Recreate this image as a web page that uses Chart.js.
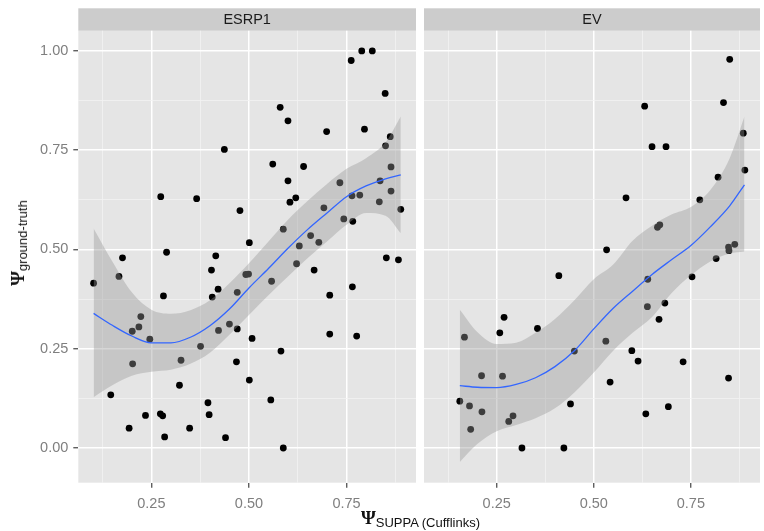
<!DOCTYPE html>
<html>
<head>
<meta charset="utf-8">
<script src="https://cdn.jsdelivr.net/npm/chart.js@4"></script>
<style>
  html, body { margin: 0; padding: 0; background: #ffffff; }
  #wrap { position: relative; width: 764px; height: 531px; overflow: hidden; background: #ffffff; }
  canvas { position: absolute; top: 0; }
  .psi { font-family: "Liberation Serif", "DejaVu Serif", serif; font-size: 19px; font-weight: bold; color: #111; }
  .sub { font-family: "Liberation Sans", Arial, sans-serif; font-size: 13px; color: #111; position: relative; top: 3px; }
  #xtitle { position: absolute; left: 0; width: 841px; top: 508px; line-height: 20px; text-align: center; white-space: nowrap; }
  #ytitle { position: absolute; left: 19px; top: 243px; width: 0; height: 0; }
  #ytitle > div { position: absolute; left: 0; top: 0; line-height: 20px; white-space: nowrap; transform: translate(-50%, -50%) rotate(-90deg); }
</style>
</head>
<body>
<div id="wrap">
  <canvas id="c1" width="420" height="531" style="left:0"></canvas>
  <canvas id="c2" width="344" height="531" style="left:420px"></canvas>
  <div id="ytitle"><div><span class="psi">Ψ</span><span class="sub">ground-truth</span></div></div>
  <div id="xtitle"><span class="psi">Ψ</span><span class="sub">SUPPA (Cufflinks)</span></div>
</div>
<script>
// ---- panel names ----
const panelNames = ["ESRP1", "EV"];

// ---- ESRP1 points ----
const esrp1X = [0.437,0.274,0.366,0.477,0.501,0.176,0.289,0.415,0.762,0.789,0.816,0.849,0.580,0.600,0.699,0.796,0.862,0.850,0.561,0.640,0.864,0.600,0.733,0.836,0.864,0.605,0.620,0.764,0.784,0.834,0.889,0.692,0.743,0.766,0.588,0.658,0.679,0.629,0.852,0.883,0.404,0.167,0.102,0.492,0.499,0.281,0.421,0.406,0.470,0.223,0.218,0.201,0.246,0.422,0.450,0.470,0.376,0.202,0.326,0.468,0.501,0.322,0.146,0.395,0.235,0.273,0.279,0.398,0.193,0.348,0.284,0.440,0.622,0.558,0.667,0.707,0.765,0.508,0.582,0.707,0.776,0.556,0.588];
const esrp1Y = [0.752,0.633,0.628,0.598,0.517,0.479,0.493,0.484,0.976,1.000,1.000,0.893,0.858,0.824,0.797,0.803,0.784,0.761,0.715,0.709,0.708,0.673,0.668,0.673,0.647,0.619,0.630,0.635,0.637,0.620,0.601,0.605,0.577,0.571,0.551,0.535,0.518,0.509,0.479,0.474,0.448,0.432,0.415,0.437,0.438,0.383,0.400,0.380,0.392,0.331,0.305,0.294,0.274,0.296,0.312,0.300,0.256,0.212,0.221,0.217,0.171,0.158,0.134,0.114,0.082,0.086,0.081,0.084,0.050,0.050,0.028,0.026,0.464,0.420,0.448,0.385,0.406,0.276,0.244,0.287,0.282,0.121,0.000];

// ---- EV points ----
const evX = [0.850,0.834,0.631,0.650,0.686,0.885,0.889,0.820,0.583,0.773,0.664,0.670,0.533,0.847,0.848,0.863,0.815,0.639,0.753,0.638,0.683,0.668,0.531,0.598,0.614,0.730,0.847,0.542,0.692,0.634,0.410,0.269,0.258,0.355,0.167,0.450,0.211,0.265,0.155,0.180,0.212,0.292,0.281,0.183,0.440,0.315,0.423];
const evY = [0.979,0.870,0.861,0.759,0.759,0.793,0.700,0.682,0.630,0.625,0.556,0.562,0.499,0.506,0.497,0.513,0.477,0.425,0.431,0.356,0.365,0.324,0.269,0.245,0.219,0.217,0.176,0.166,0.104,0.086,0.434,0.329,0.290,0.301,0.279,0.244,0.182,0.181,0.118,0.106,0.091,0.081,0.067,0.047,0.111,0.000,0.000];

// ---- smooth (loess) curves ----
const esrp1SmoothX = [0.102,0.15,0.20,0.25,0.30,0.35,0.40,0.45,0.50,0.55,0.60,0.65,0.70,0.75,0.80,0.85,0.889];
const esrp1Fit     = [0.339,0.309,0.282,0.265,0.265,0.279,0.308,0.350,0.403,0.452,0.503,0.550,0.592,0.633,0.660,0.678,0.688];
const esrp1Upper   = [0.553,0.470,0.392,0.348,0.338,0.347,0.372,0.415,0.465,0.520,0.575,0.622,0.665,0.703,0.730,0.770,0.835];
const esrp1Lower   = [0.128,0.158,0.182,0.192,0.197,0.212,0.240,0.285,0.335,0.385,0.432,0.478,0.520,0.562,0.592,0.585,0.541];

const evSmoothX = [0.155,0.20,0.25,0.30,0.35,0.40,0.45,0.50,0.55,0.60,0.65,0.70,0.75,0.80,0.85,0.888];
const evFit     = [0.157,0.153,0.152,0.160,0.177,0.205,0.245,0.300,0.352,0.395,0.437,0.474,0.510,0.557,0.610,0.663];
const evUpper   = [0.348,0.292,0.262,0.265,0.290,0.325,0.372,0.425,0.462,0.522,0.560,0.588,0.607,0.650,0.730,0.835];
const evLower   = [-0.035,0.010,0.042,0.058,0.075,0.100,0.140,0.190,0.245,0.290,0.330,0.390,0.435,0.470,0.490,0.495];

// ---- axes ----
const xRange = [0.0628, 0.928];
const yRange = [-0.0874, 1.051];
const xGrid = [0.125, 0.25, 0.375, 0.5, 0.625, 0.75, 0.875];
const yGrid = [0, 0.125, 0.25, 0.375, 0.5, 0.625, 0.75, 0.875, 1.0];
const xTickLabels = {0.25: "0.25", 0.5: "0.50", 0.75: "0.75"};
const yTickLabels = {0: "0.00", 0.25: "0.25", 0.5: "0.50", 0.75: "0.75", 1: "1.00"};

const pts = (xs, ys) => xs.map((x, i) => ({x: x, y: ys[i]}));
const isMajor = v => Math.abs(v / 0.25 - Math.round(v / 0.25)) < 1e-6;
const tickFont = {family: "'Liberation Sans', Arial, sans-serif", size: 14.5};

const panelPlugin = {
  id: 'panelBg',
  beforeDraw(chart) {
    const {ctx, chartArea: a} = chart;
    ctx.save();
    ctx.fillStyle = '#E5E5E5';
    ctx.fillRect(a.left, a.top, a.right - a.left, a.bottom - a.top);
    ctx.fillStyle = '#CCCCCC';
    ctx.fillRect(a.left, 8.3, a.right - a.left, a.top - 8.3);
    ctx.restore();
  }
};

function makeChart(canvasId, name, xs, ys, sx, fit, up, lo, first) {
  const chartAreaLeft = first ? 78.3 : 3.3;
  const smooth = { showLine: true, pointRadius: 0, cubicInterpolationMode: 'monotone' };
  return new Chart(document.getElementById(canvasId), {
    type: 'scatter',
    data: {
      datasets: [
        Object.assign({ // fitted line (on top)
          data: pts(sx, fit), borderColor: '#3366FF', borderWidth: 1.3, fill: false, order: 1
        }, smooth),
        Object.assign({ // confidence band upper, filled down to lower
          data: pts(sx, up), borderWidth: 0, borderColor: 'rgba(0,0,0,0)',
          fill: '+1', backgroundColor: 'rgba(153,153,153,0.4)', order: 2
        }, smooth),
        Object.assign({
          data: pts(sx, lo), borderWidth: 0, borderColor: 'rgba(0,0,0,0)', fill: false, order: 3
        }, smooth),
        { // observations
          data: pts(xs, ys), showLine: false, pointRadius: 3.4, pointBackgroundColor: '#000000',
          pointBorderWidth: 0, backgroundColor: '#000000', borderWidth: 0, order: 4
        }
      ]
    },
    options: {
      responsive: false,
      animation: false,
      events: [],
      layout: { padding: { left: first ? 0 : 3.3, right: first ? 2.7 : 1, top: 8.3, bottom: 0 } },
      plugins: {
        legend: { display: false },
        tooltip: { enabled: false },
        title: {
          display: true, text: name, fullSize: false, color: '#1A1A1A',
          font: { family: "'Liberation Sans', Arial, sans-serif", size: 14.5, weight: 'normal', lineHeight: 1.2 },
          padding: { top: 2.7, bottom: 2.3 }
        }
      },
      scales: {
        x: {
          type: 'linear', min: xRange[0], max: xRange[1],
          afterBuildTicks: s => { s.ticks = xGrid.map(v => ({value: v})); },
          afterFit: s => { s.height = 48.3; },
          border: { display: false },
          grid: {
            color: c => isMajor(c.tick.value) ? '#FFFFFF' : '#F2F2F2',
            lineWidth: c => isMajor(c.tick.value) ? 1.5 : 0.8,
            tickColor: c => isMajor(c.tick.value) ? '#444444' : 'rgba(0,0,0,0)',
            tickWidth: 1.2, tickLength: 5, drawTicks: true
          },
          ticks: {
            autoSkip: false, maxRotation: 0, padding: 8, color: '#7F7F7F', font: tickFont,
            callback: v => xTickLabels[Math.round(v * 1000) / 1000] || ''
          }
        },
        y: {
          type: 'linear', min: yRange[0], max: yRange[1],
          afterBuildTicks: s => { s.ticks = yGrid.map(v => ({value: v})); },
          afterFit: s => { s.width = first ? chartAreaLeft : 0; },
          border: { display: false },
          grid: {
            color: c => isMajor(c.tick.value) ? '#FFFFFF' : '#F2F2F2',
            lineWidth: c => isMajor(c.tick.value) ? 1.5 : 0.8,
            tickColor: c => (first && isMajor(c.tick.value)) ? '#444444' : 'rgba(0,0,0,0)',
            tickWidth: 1.2, tickLength: first ? 5 : 0, drawTicks: first
          },
          ticks: {
            display: first, autoSkip: false, padding: 5, color: '#7F7F7F', font: tickFont,
            callback: v => yTickLabels[Math.round(v * 1000) / 1000] || ''
          }
        }
      }
    },
    plugins: [panelPlugin]
  });
}

makeChart('c1', panelNames[0], esrp1X, esrp1Y, esrp1SmoothX, esrp1Fit, esrp1Upper, esrp1Lower, true);
makeChart('c2', panelNames[1], evX, evY, evSmoothX, evFit, evUpper, evLower, false);
</script>
</body>
</html>
